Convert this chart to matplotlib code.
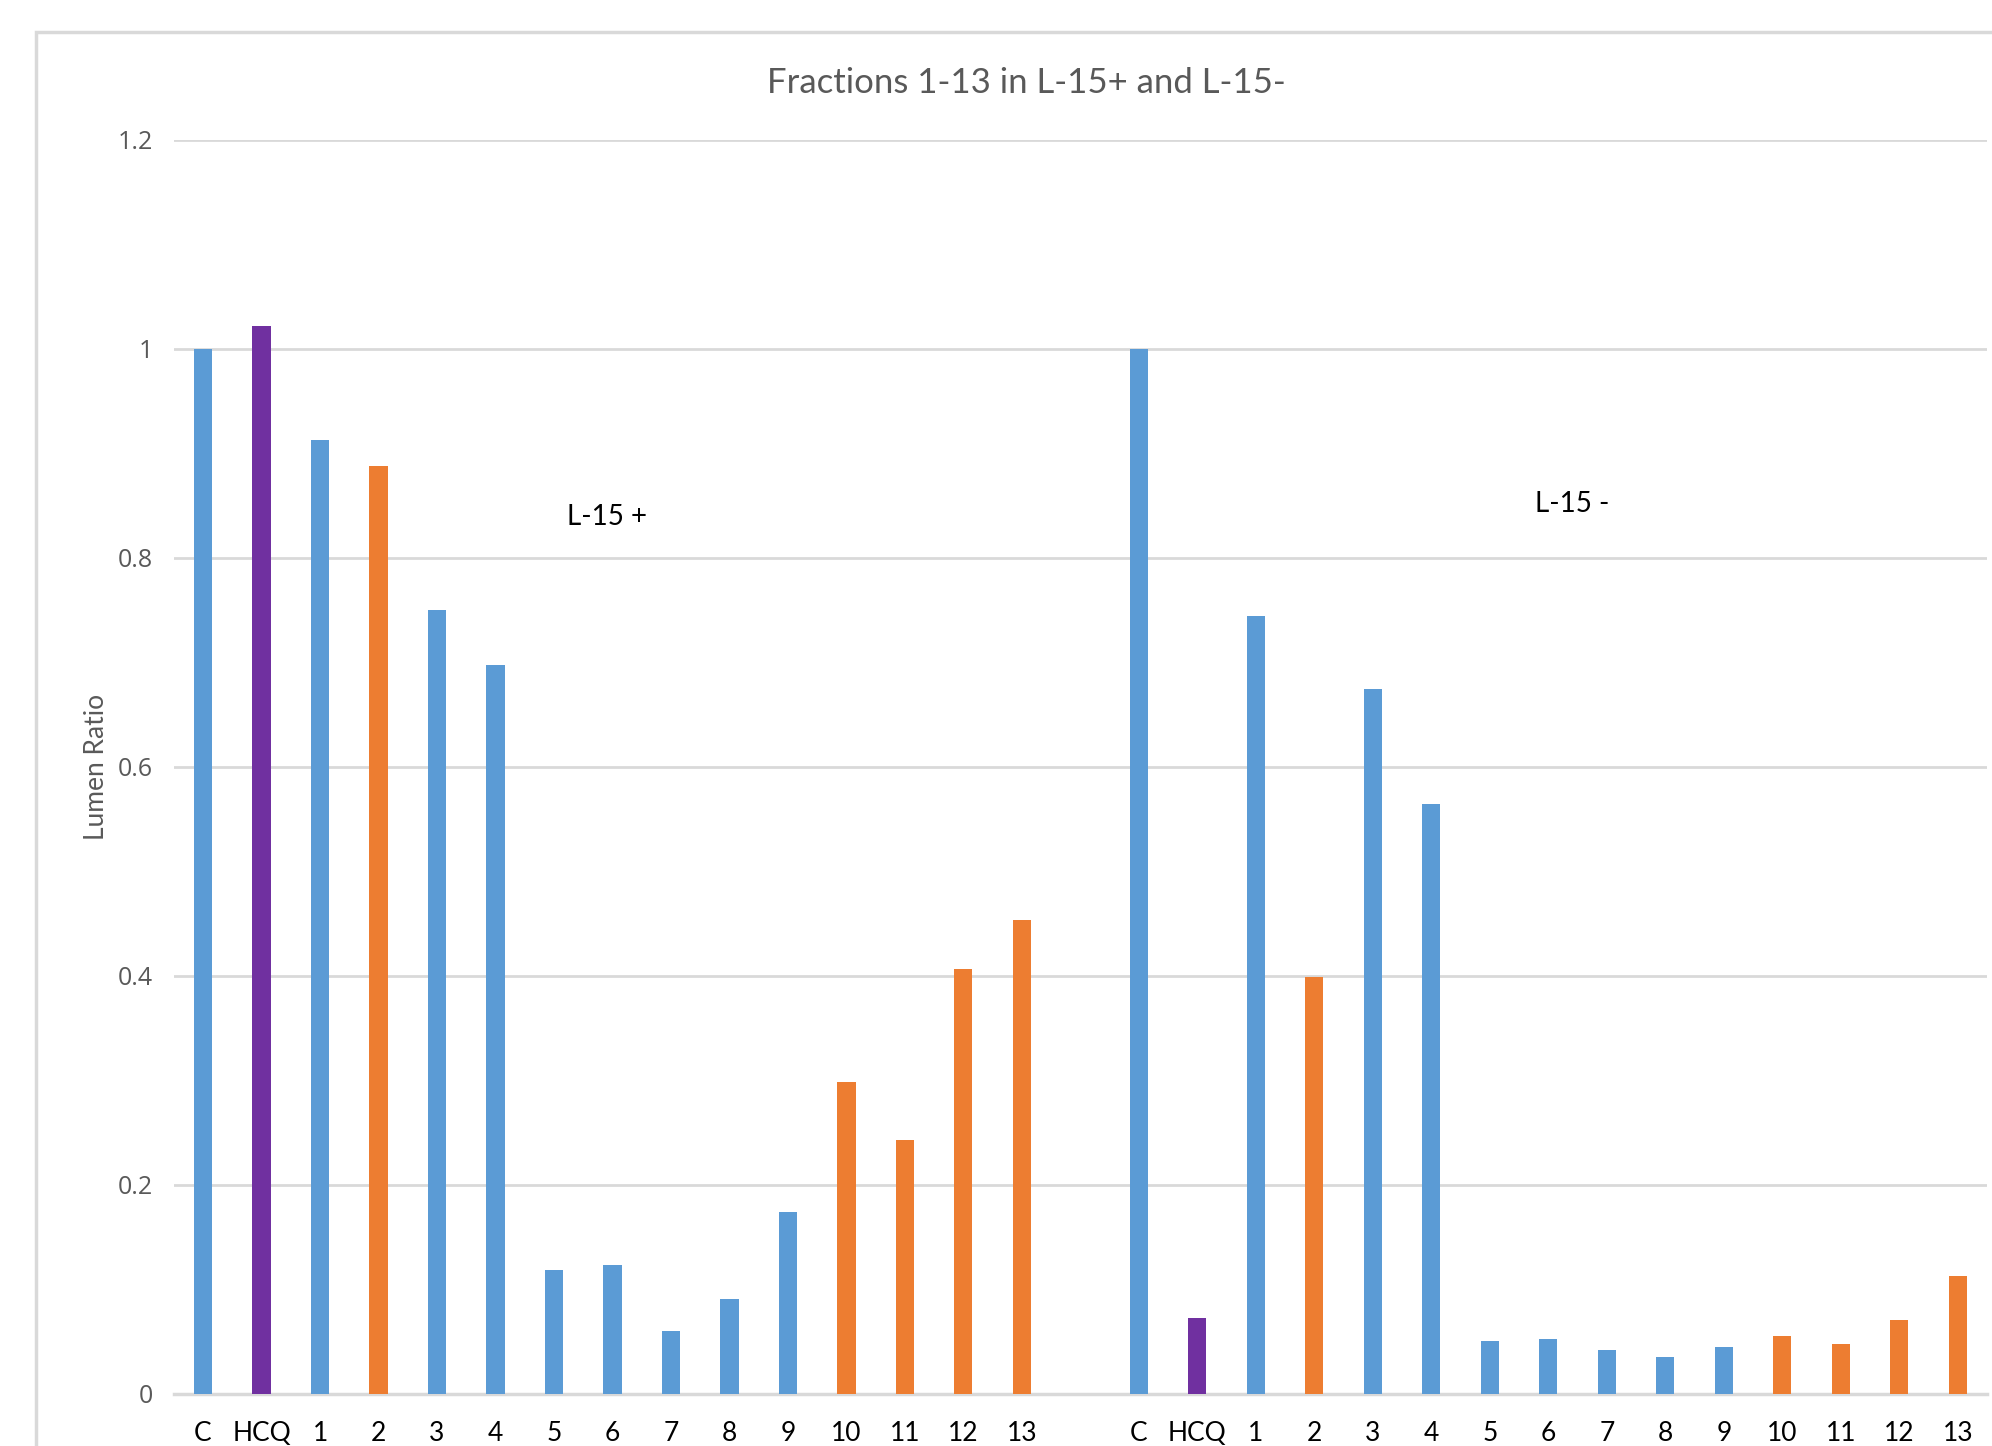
import matplotlib
matplotlib.use("Agg")
import matplotlib.pyplot as plt
from matplotlib.patches import Rectangle
import numpy as np

# categories for each block
labels = ['C', 'HCQ', '1', '2', '3', '4', '5', '6', '7', '8', '9', '10', '11', '12', '13']
# lumen ratio, L-15 positive cells
l15_plus = [1.0, 1.022, 0.913, 0.888, 0.750, 0.697, 0.118, 0.123, 0.060, 0.091,
            0.174, 0.298, 0.243, 0.406, 0.453]
# lumen ratio, L-15 negative cells
l15_minus = [1.0, 0.072, 0.744, 0.399, 0.674, 0.564, 0.050, 0.052, 0.042, 0.035,
             0.045, 0.055, 0.047, 0.070, 0.113]
# which bars are drawn in orange
orange_fractions = ['2', '10', '11', '12', '13']

BLUE = '#5B9BD5'
ORANGE = '#ED7D31'
PURPLE = '#7030A0'
GRID = '#D9D9D9'
GRAY_TXT = '#595959'

def bar_color(lab):
    if lab == 'HCQ':
        return PURPLE
    if lab in orange_fractions:
        return ORANGE
    return BLUE

W, H = 1992, 1446
fig = plt.figure(figsize=(W / 100, H / 100), dpi=100)

# outer chart frame (cut off on the right and bottom)
fig.patches.append(Rectangle((36 / W, -0.1), 1.2, 1 - 32 / H + 0.1, transform=fig.transFigure,
                             facecolor='none', edgecolor=GRID, linewidth=2.5, zorder=0))

left, right = 173.8 / W, 1987 / W
bottom, top = (H - 1393.6) / H, (H - 139.7) / H
ax = fig.add_axes([left, bottom, right - left, top - bottom])
ax.set_facecolor('none')

n = len(labels)
x_plus = np.arange(n)
x_minus = np.arange(n) + n + 1
cols = [bar_color(l) for l in labels]

ax.bar(x_plus, l15_plus, width=0.31, color=cols, zorder=3)
ax.bar(x_minus, l15_minus, width=0.31, color=cols, zorder=3)

ax.set_xlim(-0.5, 2 * n + 0.5)
ax.set_ylim(0, 1.2)
ax.set_yticks([0, 0.2, 0.4, 0.6, 0.8, 1.0, 1.2])
ax.set_yticklabels(['0', '0.2', '0.4', '0.6', '0.8', '1', '1.2'],
                   fontfamily='Open Sans', fontsize=18, color=GRAY_TXT)
ax.set_xticks(list(x_plus) + list(x_minus))
ax.set_xticklabels(labels + labels, fontfamily='Lato', fontsize=19, color='black')
ax.tick_params(axis='both', length=0)
ax.tick_params(axis='y', pad=15)
ax.tick_params(axis='x', pad=20)

ax.grid(axis='y', color=GRID, linewidth=2, zorder=0)
for s in ['top', 'right', 'left']:
    ax.spines[s].set_visible(False)
ax.spines['bottom'].set_color(GRID)
ax.spines['bottom'].set_linewidth(2.5)

ax.set_ylabel('Lumen Ratio', fontfamily='Lato', fontsize=19, color=GRAY_TXT, labelpad=6)

ax.text(6.9, 0.839, 'L-15 +', fontfamily='Lato', fontsize=20, color='black',
        ha='center', va='center')
ax.text(23.4, 0.851, 'L-15 -', fontfamily='Lato', fontsize=20, color='black',
        ha='center', va='center')

fig.text(1026 / W, (H - 82.6) / H, 'Fractions 1-13 in L-15+ and L-15-', fontfamily='Lato',
         fontsize=25, color=GRAY_TXT, ha='center', va='center')

fig.savefig('out.png', dpi=100, facecolor='white')
